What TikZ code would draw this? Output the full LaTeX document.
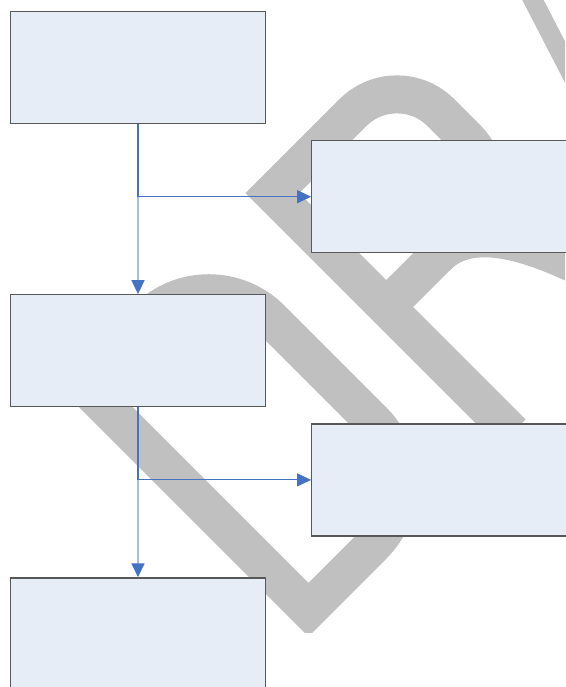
\documentclass[tikz,border=0pt]{standalone}
\usetikzlibrary{arrows.meta,positioning}

\definecolor{flowblue}{RGB}{68,114,196}
\definecolor{paleblue}{RGB}{164,189,227}
\definecolor{boxfill}{RGB}{230,237,247}
\definecolor{boxline}{RGB}{88,88,88}
\definecolor{wmgray}{RGB}{192,192,192}

\begin{document}
\begin{tikzpicture}[
  x=1pt,y=-1pt,
  box/.style={draw=boxline,fill=boxfill,line width=1.2pt,minimum width=255pt,minimum height=112pt,inner sep=0pt},
  flow/.style={-{Triangle[length=14pt,width=13pt,color=flowblue]},line width=1.5pt},
  branch/.style={-{Triangle[length=14pt,width=13pt]},draw=flowblue,line width=1pt},
  wm/.style={draw=wmgray,line width=38pt}
]
\path[use as bounding box,fill=white] (0,0) rectangle (565,687);

% watermark, letters set along the diagonal
\begin{scope}
  \clip (0,0) rectangle (565,632);
  \begin{scope}[shift={(308.5,636.5)},x={(0.7071pt,0.7071pt)},y={(-0.7071pt,0.7071pt)}]
    \draw[wm] (19,19) -- (19,339) -- (110,339) arc[start angle=90,end angle=0,radius=88]
      -- (198,107) arc[start angle=0,end angle=-90,radius=88] -- cycle;
    \draw[wm] (288,0) -- (288,339) -- (402,339) arc[start angle=90,end angle=0,radius=62]
      -- (464,240) arc[start angle=0,end angle=-90,radius=62] -- (288,178);
    \draw[wm] (360,178) .. controls (420,178) and (450,90) .. (475,0);
    \draw[wm,line width=19pt] (516,0) -- (630,358);
    \draw[wm] (630,358) -- (760,0);
  \end{scope}
\end{scope}

\node[box] (b1) at (138,67.5) {};
\node[box,below=170pt of b1] (b3) {};
\node[box,below=170pt of b3] (b5) {};
\node[box,below right=16pt and 45pt of b1.south east] (b2) {};
\node[box,below right=16pt and 45pt of b3.south east] (b4) {};

\coordinate (j1) at (b1.south |- b2.west);
\coordinate (j2) at (b3.south |- b4.west);
\draw[flowblue,line width=1.5pt] (b1) -- (j1);
\draw[flow,draw=paleblue] (j1) -- (b3);
\draw[branch] (j1) -- (b2);
\draw[flowblue,line width=1.5pt] (b3) -- (j2);
\draw[flow,draw=paleblue] (j2) -- (b5);
\draw[branch] (j2) -- (b4);
\end{tikzpicture}
\end{document}
